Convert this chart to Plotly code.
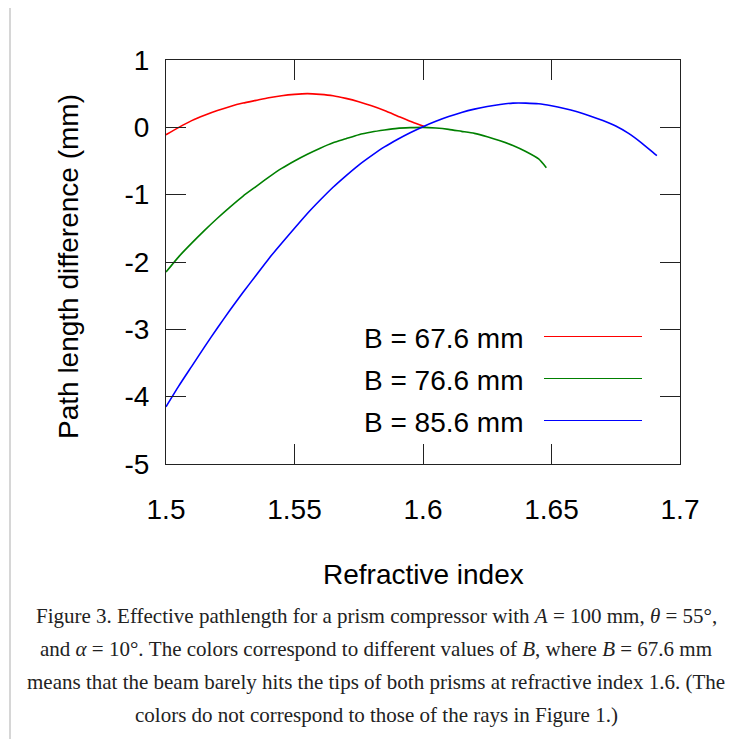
import plotly.graph_objects as go

# ---------------- data ----------------
series_names = ["B = 67.6 mm", "B = 76.6 mm", "B = 85.6 mm"]
series_colors = ["#ff0000", "#008000", "#0000ff"]

n_red = [1.500, 1.505, 1.510, 1.515, 1.520, 1.525, 1.530, 1.535, 1.540, 1.545, 1.550,
         1.555, 1.560, 1.565, 1.570, 1.575, 1.580, 1.585, 1.590, 1.595, 1.600, 1.601]
d_red = [-0.11, 0.00, 0.10, 0.18, 0.25, 0.31, 0.36, 0.40, 0.44, 0.47, 0.49,
         0.50, 0.49, 0.47, 0.43, 0.38, 0.32, 0.25, 0.17, 0.09, 0.02, 0.00]

n_green = [1.500, 1.505, 1.510, 1.515, 1.520, 1.525, 1.530, 1.535, 1.540, 1.545, 1.550,
           1.555, 1.560, 1.565, 1.570, 1.575, 1.580, 1.585, 1.590, 1.595, 1.600, 1.605,
           1.610, 1.615, 1.620, 1.625, 1.630, 1.635, 1.640, 1.645, 1.648]
d_green = [-2.15, -1.92, -1.72, -1.53, -1.35, -1.18, -1.02, -0.88, -0.74, -0.61, -0.50,
           -0.40, -0.31, -0.23, -0.17, -0.11, -0.07, -0.04, -0.015, -0.005, 0.00, -0.01,
           -0.03, -0.06, -0.09, -0.14, -0.20, -0.27, -0.36, -0.47, -0.60]

n_blue = [1.500, 1.505, 1.510, 1.515, 1.520, 1.525, 1.530, 1.535, 1.540, 1.545, 1.550,
          1.555, 1.560, 1.565, 1.570, 1.575, 1.580, 1.585, 1.590, 1.595, 1.600, 1.605,
          1.610, 1.615, 1.620, 1.625, 1.630, 1.635, 1.640, 1.645, 1.650, 1.655, 1.660,
          1.665, 1.670, 1.675, 1.680, 1.685, 1.690, 1.691]
d_blue = [-4.15, -3.84, -3.55, -3.26, -2.98, -2.71, -2.45, -2.20, -1.95, -1.72, -1.50,
          -1.28, -1.08, -0.89, -0.72, -0.56, -0.42, -0.29, -0.18, -0.08, 0.01, 0.09,
          0.16, 0.22, 0.27, 0.31, 0.34, 0.36, 0.36, 0.35, 0.32, 0.28, 0.23, 0.17,
          0.10, 0.02, -0.09, -0.23, -0.39, -0.42]

x_ticks = [1.5, 1.55, 1.6, 1.65, 1.7]
x_ticktext = ["1.5", "1.55", "1.6", "1.65", "1.7"]
y_ticks = [-5, -4, -3, -2, -1, 0, 1]
y_ticktext = ["-5", "-4", "-3", "-2", "-1", "0", "1"]

x_title = "Refractive index"
y_title = "Path length difference (mm)"
caption_lines = [
    "Figure 3. Effective pathlength for a prism compressor with <i>A</i> = 100 mm, <i>θ</i> = 55°,",
    "and <i>α</i> = 10°. The colors correspond to different values of <i>B</i>, where <i>B</i> = 67.6 mm",
    "means that the beam barely hits the tips of both prisms at refractive index 1.6. (The",
    "colors do not correspond to those of the rays in Figure 1.)",
]

# ---------------- layout geometry ----------------
OFF = 8  # page body margin
W, H = 753 - OFF, 739 - OFF
# target positions in page pixels
PL, PR, PT, PB = 166, 680, 60, 464
ML, MT = PL - OFF, PT - OFF
MR, MB = W - (PR - OFF), H - (PB - OFF)
PW, PH = PR - PL, PB - PT


def px(x):
    return (x - PL) / PW


def py(y):
    return (PB - y) / PH


fig = go.Figure()
xs = [n_red, n_green, n_blue]
ys = [d_red, d_green, d_blue]
for name, col, xv, yv in zip(series_names, series_colors, xs, ys):
    fig.add_trace(go.Scatter(x=xv, y=yv, mode="lines", name=name,
                             line=dict(color=col, width=1.6, shape="spline", smoothing=0.6),
                             showlegend=False))

axis_font = dict(family="Liberation Sans, Arial, sans-serif", size=28, color="#000")

fig.update_layout(
    width=W, height=H,
    margin=dict(l=ML, r=MR, t=MT, b=MB, pad=0),
    paper_bgcolor="white", plot_bgcolor="white",
    font=axis_font,
    xaxis=dict(range=[1.5, 1.7], tickvals=x_ticks, ticktext=x_ticktext,
               showgrid=False, zeroline=False, showline=True, linecolor="#222",
               linewidth=1, mirror="ticks", ticks="inside", ticklen=20,
               tickcolor="#222", tickwidth=1, tickfont=axis_font,
               ticklabelstandoff=20),
    yaxis=dict(range=[-5, 1], tickvals=y_ticks, ticktext=y_ticktext,
               showgrid=False, zeroline=False, showline=True, linecolor="#222",
               linewidth=1, mirror="ticks", ticks="inside", ticklen=20,
               tickcolor="#222", tickwidth=1, tickfont=axis_font,
               ticklabelstandoff=10),
)

# axis titles
fig.add_annotation(text=x_title, xref="paper", yref="paper", x=px(423), y=py(574),
                   showarrow=False, xanchor="center", yanchor="middle", font=axis_font)
fig.add_annotation(text=y_title, xref="paper", yref="paper", x=px(68), y=py(267),
                   showarrow=False, xanchor="center", yanchor="middle", textangle=-90,
                   font=axis_font)

# legend (text left, line sample right)
leg_text_y = [338, 380, 422]
for name, col, ty in zip(series_names, series_colors, leg_text_y):
    fig.add_annotation(text=name, xref="paper", yref="paper", x=px(526), y=py(ty),
                       showarrow=False, xanchor="right", yanchor="middle", font=axis_font)
    fig.add_shape(type="line", xref="paper", yref="paper",
                  x0=px(544), x1=px(642), y0=py(ty - 1.5), y1=py(ty - 1.5),
                  line=dict(color=col, width=1.2))

# caption
cap_font = dict(family="Liberation Serif, Times New Roman, serif", size=21, color="#222")
for i, line in enumerate(caption_lines):
    fig.add_annotation(text=line, xref="paper", yref="paper", x=px(376), y=py(616 + 33 * i),
                       showarrow=False, xanchor="center", yanchor="middle", font=cap_font)

# thumbnail frame (top and left edges)
fig.add_shape(type="line", xref="paper", yref="paper", x0=px(10), x1=px(760),
              y0=py(7), y1=py(7), line=dict(color="#c8c8c8", width=1.5))
fig.add_shape(type="line", xref="paper", yref="paper", x0=px(10), x1=px(10),
              y0=py(7), y1=py(745), line=dict(color="#c8c8c8", width=1.5))

fig.write_html("out.html")
